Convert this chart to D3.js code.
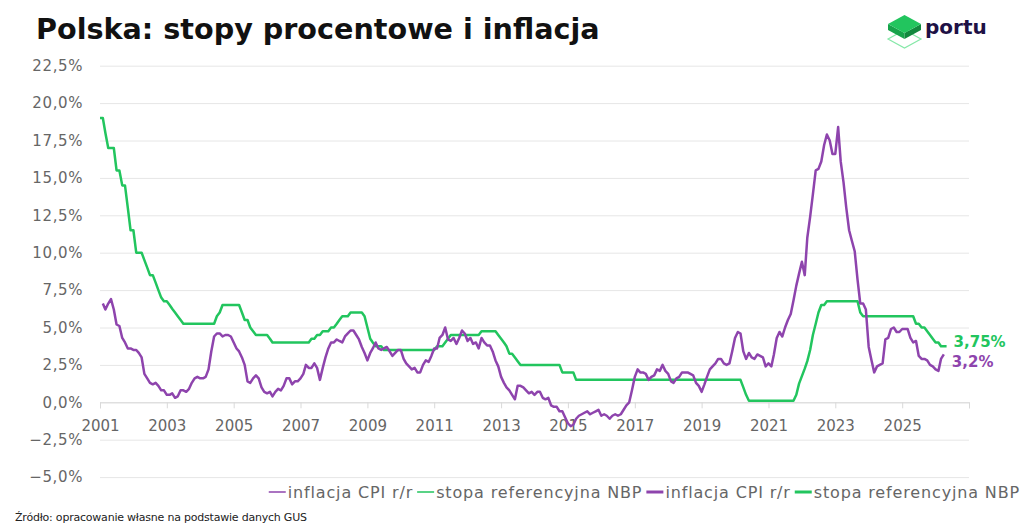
<!DOCTYPE html>
<html>
<head>
<meta charset="utf-8">
<script src="https://cdn.jsdelivr.net/npm/d3@7"></script>
<style>
  body { margin: 0; background: #fff; }
  svg { display: block; }
</style>
</head>
<body>
<svg id="chart" width="1024" height="531"></svg>
<script>
// monthly CPI y/y (%), Feb 2001 .. Apr 2026
var cpiStart = new Date(2001, 1, 1);
var cpiValues = [
  6.6, 6.2, 6.6, 6.9, 6.2, 5.2, 5.1, 4.3, 4.0, 3.6, 3.6,            // 2001
  3.5, 3.5, 3.3, 3.0, 1.9, 1.6, 1.3, 1.2, 1.3, 1.1, 0.8, 0.8,       // 2002
  0.5, 0.5, 0.6, 0.3, 0.4, 0.8, 0.8, 0.7, 0.9, 1.3, 1.6, 1.7,       // 2003
  1.6, 1.6, 1.7, 2.2, 3.4, 4.4, 4.6, 4.6, 4.4, 4.5, 4.5, 4.4,       // 2004
  4.0, 3.6, 3.4, 3.0, 2.5, 1.4, 1.3, 1.6, 1.8, 1.6, 1.0, 0.7,       // 2005
  0.6, 0.7, 0.4, 0.7, 0.9, 0.8, 1.1, 1.6, 1.6, 1.2, 1.4, 1.4,       // 2006
  1.6, 1.9, 2.5, 2.3, 2.3, 2.6, 2.3, 1.5, 2.3, 3.0, 3.6, 4.0,       // 2007
  4.0, 4.2, 4.1, 4.0, 4.4, 4.6, 4.8, 4.8, 4.5, 4.2, 3.7, 3.3,       // 2008
  2.8, 3.3, 3.6, 4.0, 3.6, 3.5, 3.6, 3.7, 3.4, 3.1, 3.3, 3.5,       // 2009
  3.5, 2.9, 2.6, 2.4, 2.2, 2.3, 2.0, 2.0, 2.5, 2.8, 2.7, 3.1,       // 2010
  3.6, 3.6, 4.3, 4.5, 5.0, 4.2, 4.1, 4.3, 3.9, 4.3, 4.8, 4.6,       // 2011
  4.1, 4.3, 3.9, 4.0, 3.6, 4.3, 4.0, 3.8, 3.8, 3.4, 2.8, 2.4,       // 2012
  1.7, 1.3, 1.0, 0.8, 0.5, 0.2, 1.1, 1.1, 1.0, 0.8, 0.6, 0.7,       // 2013
  0.5, 0.7, 0.7, 0.3, 0.2, 0.3, -0.2, -0.3, -0.3, -0.6, -0.6, -1.0, // 2014
  -1.4, -1.6, -1.5, -1.1, -0.9, -0.8, -0.7, -0.6, -0.8, -0.7, -0.6, -0.5, // 2015
  -0.9, -0.8, -0.9, -1.1, -0.9, -0.8, -0.9, -0.8, -0.5, -0.2, 0.0, 0.8,   // 2016
  1.7, 2.2, 2.0, 2.0, 1.9, 1.5, 1.7, 1.8, 2.2, 2.1, 2.5, 2.1,       // 2017
  1.9, 1.4, 1.3, 1.6, 1.7, 2.0, 2.0, 2.0, 1.9, 1.8, 1.3, 1.1,       // 2018
  0.7, 1.2, 1.7, 2.2, 2.4, 2.6, 2.9, 2.9, 2.6, 2.5, 2.6, 3.4,       // 2019
  4.3, 4.7, 4.6, 3.4, 2.9, 3.3, 3.0, 2.9, 3.2, 3.1, 3.0, 2.4,       // 2020
  2.6, 2.4, 3.2, 4.3, 4.7, 4.4, 5.0, 5.5, 5.9, 6.8, 7.8, 8.6,       // 2021
  9.4, 8.5, 11.0, 12.4, 13.9, 15.5, 15.6, 16.1, 17.2, 17.9, 17.5, 16.6, // 2022
  16.6, 18.4, 16.1, 14.7, 13.0, 11.5, 10.8, 10.1, 8.2, 6.6, 6.6, 6.2,   // 2023
  3.7, 2.8, 2.0, 2.4, 2.5, 2.6, 4.2, 4.3, 4.9, 5.0, 4.7, 4.7,       // 2024
  4.9, 4.9, 4.9, 4.3, 4.0, 4.1, 3.1, 2.9, 2.9, 2.8, 2.5, 2.4,       // 2025
  2.2, 2.1, 2.9, 3.2                                                // 2026
];

// NBP reference rate (%), start of month, Jan 2001 .. May 2026
var rateStart = new Date(2001, 0, 1);
var rateValues = [
  19, 19, 18, 17, 17, 17, 15.5, 15.5, 14.5, 14.5, 13, 11.5,                 // 2001
  11.5, 10, 10, 10, 9.5, 9, 8.5, 8.5, 8, 7.5, 7, 6.75,                      // 2002
  6.75, 6.5, 6.25, 6, 5.75, 5.5, 5.25, 5.25, 5.25, 5.25, 5.25, 5.25,        // 2003
  5.25, 5.25, 5.25, 5.25, 5.25, 5.25, 5.75, 6, 6.5, 6.5, 6.5, 6.5,          // 2004
  6.5, 6.5, 6.5, 6, 5.5, 5.5, 5, 4.75, 4.5, 4.5, 4.5, 4.5,                  // 2005
  4.5, 4.25, 4, 4, 4, 4, 4, 4, 4, 4, 4, 4,                                  // 2006
  4, 4, 4, 4, 4.25, 4.25, 4.5, 4.5, 4.75, 4.75, 4.75, 5,                    // 2007
  5, 5.25, 5.5, 5.75, 5.75, 5.75, 6, 6, 6, 6, 6, 5.75,                      // 2008
  5, 4.25, 4, 3.75, 3.75, 3.75, 3.5, 3.5, 3.5, 3.5, 3.5, 3.5,               // 2009
  3.5, 3.5, 3.5, 3.5, 3.5, 3.5, 3.5, 3.5, 3.5, 3.5, 3.5, 3.5,               // 2010
  3.5, 3.75, 3.75, 3.75, 4, 4.25, 4.5, 4.5, 4.5, 4.5, 4.5, 4.5,             // 2011
  4.5, 4.5, 4.5, 4.5, 4.5, 4.75, 4.75, 4.75, 4.75, 4.75, 4.75, 4.5,         // 2012
  4.25, 4, 3.75, 3.25, 3.25, 3, 2.75, 2.5, 2.5, 2.5, 2.5, 2.5,              // 2013
  2.5, 2.5, 2.5, 2.5, 2.5, 2.5, 2.5, 2.5, 2.5, 2.5, 2, 2,                   // 2014
  2, 2, 2, 1.5, 1.5, 1.5, 1.5, 1.5, 1.5, 1.5, 1.5, 1.5,                     // 2015
  1.5, 1.5, 1.5, 1.5, 1.5, 1.5, 1.5, 1.5, 1.5, 1.5, 1.5, 1.5,               // 2016
  1.5, 1.5, 1.5, 1.5, 1.5, 1.5, 1.5, 1.5, 1.5, 1.5, 1.5, 1.5,               // 2017
  1.5, 1.5, 1.5, 1.5, 1.5, 1.5, 1.5, 1.5, 1.5, 1.5, 1.5, 1.5,               // 2018
  1.5, 1.5, 1.5, 1.5, 1.5, 1.5, 1.5, 1.5, 1.5, 1.5, 1.5, 1.5,               // 2019
  1.5, 1.5, 1.5, 1, 0.5, 0.1, 0.1, 0.1, 0.1, 0.1, 0.1, 0.1,                 // 2020
  0.1, 0.1, 0.1, 0.1, 0.1, 0.1, 0.1, 0.1, 0.1, 0.1, 0.5, 1.25,              // 2021
  1.75, 2.25, 2.75, 3.5, 4.5, 5.25, 6, 6.5, 6.5, 6.75, 6.75, 6.75,          // 2022
  6.75, 6.75, 6.75, 6.75, 6.75, 6.75, 6.75, 6.75, 6.75, 6, 5.75, 5.75,      // 2023
  5.75, 5.75, 5.75, 5.75, 5.75, 5.75, 5.75, 5.75, 5.75, 5.75, 5.75, 5.75,   // 2024
  5.75, 5.75, 5.75, 5.75, 5.75, 5.25, 5.25, 5, 5, 4.75, 4.5, 4.25,          // 2025
  4, 4, 3.75, 3.75, 3.75                                                    // 2026
];

var yTicks = [-5, -2.5, 0, 2.5, 5, 7.5, 10, 12.5, 15, 17.5, 20, 22.5];
var xTickYears = [2001, 2003, 2005, 2007, 2009, 2011, 2013, 2015, 2017, 2019, 2021, 2023, 2025, 2027];
var xTickLabels = ["2001", "2003", "2005", "2007", "2009", "2011", "2013", "2015", "2017", "2019", "2021", "2023", "2025", ""];
var legendLabels = ["inflacja CPI r/r", "stopa referencyjna NBP", "inflacja CPI r/r", "stopa referencyjna NBP"];

var purple = "#8e44ad";
var green = "#22c55e";
var axisFont = "'DejaVu Sans', sans-serif";

var svg = d3.select("#chart");

var x = d3.scaleTime()
  .domain([new Date(2001, 0, 1), new Date(2027, 0, 1)])
  .range([100, 969]);
var y = d3.scaleLinear()
  .domain([-5, 22.5])
  .range([477.1, 65.7]);

var cpi = cpiValues.map((v, i) => ({ date: d3.timeMonth.offset(cpiStart, i), value: v }));
var rate = rateValues.map((v, i) => ({ date: d3.timeMonth.offset(rateStart, i), value: v }));

// grid + y labels
var yAxis = svg.append("g")
  .attr("transform", "translate(100,0)")
  .call(d3.axisLeft(y)
    .tickValues(yTicks)
    .tickSize(-869)
    .tickPadding(17)
    .tickFormat(d => d3.format(".1f")(d).replace(".", ",") + "%"));
yAxis.select(".domain").remove();
yAxis.selectAll("line").attr("stroke", "#e6e6e6");
yAxis.selectAll("text")
  .attr("fill", "#666")
  .style("font-family", axisFont)
  .style("font-size", "15px")
  .style("letter-spacing", "0.6px");

// x axis on the zero line
var xAxis = svg.append("g")
  .attr("transform", "translate(0," + y(0) + ")")
  .call(d3.axisBottom(x)
    .tickValues(xTickYears.map(yr => new Date(yr, 0, 1)))
    .tickSize(6)
    .tickPadding(12)
    .tickFormat((d, i) => xTickLabels[i]));
xAxis.select(".domain").attr("stroke", "#d9d9d9");
xAxis.selectAll("line").attr("stroke", "#d9d9d9");
xAxis.selectAll("text")
  .attr("fill", "#666")
  .style("font-family", axisFont)
  .style("font-size", "15px");

var line = d3.line()
  .x(d => x(d.date))
  .y(d => y(d.value));

svg.append("path")
  .datum(rate)
  .attr("d", line)
  .attr("fill", "none")
  .attr("stroke", green)
  .attr("stroke-width", 2.5)
  .attr("stroke-linejoin", "round");

svg.append("path")
  .datum(cpi)
  .attr("d", line)
  .attr("fill", "none")
  .attr("stroke", purple)
  .attr("stroke-width", 2.5)
  .attr("stroke-linejoin", "round");

// end labels
var lastRate = rate[rate.length - 1];
var lastCpi = cpi[cpi.length - 1];
svg.append("text")
  .attr("x", x(lastRate.date) + 7)
  .attr("y", y(lastRate.value) + 0.5)
  .attr("fill", green)
  .style("font-family", axisFont)
  .style("font-weight", "bold")
  .style("font-size", "15px")
  .text(d3.format(".2f")(lastRate.value).replace(".", ",") + "%");
svg.append("text")
  .attr("x", x(lastCpi.date) + 8)
  .attr("y", y(lastCpi.value) + 13)
  .attr("fill", purple)
  .style("font-family", axisFont)
  .style("font-weight", "bold")
  .style("font-size", "15px")
  .text(d3.format(".1f")(lastCpi.value).replace(".", ",") + "%");

// legend (right aligned)
var legendColors = [purple, green, purple, green];
var legendWidths = [1.5, 1.5, 3, 3];
var legend = svg.append("g");
var items = legend.selectAll("g")
  .data(legendLabels)
  .enter()
  .append("g");
items.append("line")
  .attr("x1", 0).attr("x2", 17)
  .attr("y1", 492).attr("y2", 492)
  .attr("stroke", (d, i) => legendColors[i])
  .attr("stroke-width", (d, i) => legendWidths[i]);
items.append("text")
  .attr("x", 19)
  .attr("y", 497.5)
  .attr("fill", "#666")
  .style("font-family", axisFont)
  .style("font-size", "16px")
  .style("letter-spacing", "0.85px")
  .text(d => d);
var pos = 0;
var offsets = [];
items.each(function () {
  offsets.push(pos);
  pos += 19 + d3.select(this).select("text").node().getComputedTextLength() + 4;
});
var legendStart = 1020 - (pos - 4);
items.attr("transform", (d, i) => "translate(" + (legendStart + offsets[i]) + ",0)");

// title, sized to span the same width as the original
var title = svg.append("text")
  .attr("x", 36)
  .attr("y", 39)
  .attr("fill", "#111")
  .style("font-family", axisFont)
  .style("font-weight", "bold")
  .style("font-size", "28px")
  .text("Polska: stopy procentowe i inflacja");
var tw = title.node().getComputedTextLength();
title.style("font-size", (28 * 564 / tw) + "px");

// source
svg.append("text")
  .attr("x", 15)
  .attr("y", 521)
  .attr("fill", "#222")
  .attr("textLength", 292)
  .attr("lengthAdjust", "spacing")
  .style("font-family", axisFont)
  .style("font-size", "11px")
  .text("Źródło: opracowanie własne na podstawie danych GUS");

// logo
var logo = svg.append("g");
logo.append("polygon")
  .attr("points", "888,39 904.5,30 921,39 904.5,48")
  .attr("fill", "none")
  .attr("stroke", "#86e8a8")
  .attr("stroke-width", 1.2);
logo.append("polygon")
  .attr("points", "888,24 904.5,33 904.5,39 888,30")
  .attr("fill", "#16a34a");
logo.append("polygon")
  .attr("points", "904.5,33 921,24 921,30 904.5,39")
  .attr("fill", "#12883e");
logo.append("polygon")
  .attr("points", "888,24 904.5,15 921,24 904.5,33")
  .attr("fill", "#22c55e");
logo.append("text")
  .attr("x", 925)
  .attr("y", 34)
  .attr("fill", "#1e1145")
  .style("font-family", axisFont)
  .style("font-weight", "bold")
  .style("font-size", "20px")
  .text("portu");
</script>
</body>
</html>
